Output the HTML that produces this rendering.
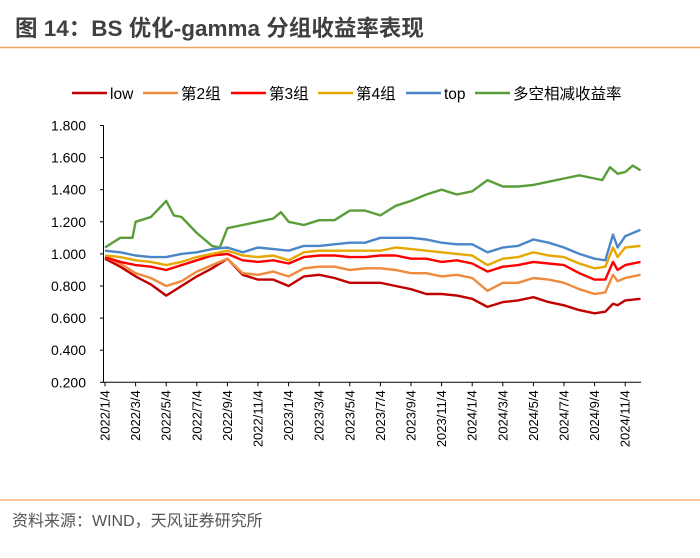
<!DOCTYPE html>
<html><head><meta charset="utf-8"><style>
body{margin:0;width:700px;height:553px;background:#fff;overflow:hidden;font-family:"Liberation Sans","Noto Sans CJK SC",sans-serif}
</style></head><body>
<svg width="700" height="553" xmlns="http://www.w3.org/2000/svg">
<text x="15" y="36" font-size="22.5" font-weight="bold" fill="#404040" font-family="Liberation Sans, Noto Sans CJK SC, sans-serif">图 14：BS 优化-gamma 分组收益率表现</text>
<line x1="0" y1="47.5" x2="700" y2="47.5" stroke="#f0a566" stroke-width="1.5"/>
<g id="legend"></g>
<g id="axes"></g>
<g id="plot"></g>
<line x1="0" y1="500" x2="700" y2="500" stroke="#f0a566" stroke-width="1.2"/>
<text x="12" y="526" font-size="16" fill="#555" font-family="Liberation Sans, Noto Sans CJK SC, sans-serif">资料来源：WIND，天风证券研究所</text>
</svg>
<script>
const tickLabels=["2022/1/4","2022/3/4","2022/5/4","2022/7/4","2022/9/4","2022/11/4","2023/1/4","2023/3/4","2023/5/4","2023/7/4","2023/9/4","2023/11/4","2024/1/4","2024/3/4","2024/5/4","2024/7/4","2024/9/4","2024/11/4"];
const yTicks=[0.2,0.4,0.6,0.8,1.0,1.2,1.4,1.6,1.8];
const months=[0,1,2,3,4,5,6,7,8,9,10,11,12,13,14,15,16,17,18,19,20,21,22,23,24,25,26,27,28,29,30,31,32,32.7,33.2,33.5,34,35];
const lowVals=[0.97,0.92,0.86,0.81,0.74,0.80,0.86,0.91,0.97,0.87,0.84,0.84,0.80,0.86,0.87,0.85,0.82,0.82,0.82,0.80,0.78,0.75,0.75,0.74,0.72,0.67,0.70,0.71,0.73,0.70,0.68,0.65,0.63,0.64,0.69,0.68,0.71,0.72];
const g2Vals=[0.98,0.94,0.88,0.85,0.80,0.83,0.89,0.93,0.97,0.88,0.87,0.89,0.86,0.91,0.92,0.92,0.90,0.91,0.91,0.90,0.88,0.88,0.86,0.87,0.85,0.77,0.82,0.82,0.85,0.84,0.82,0.78,0.75,0.76,0.87,0.83,0.85,0.87];
const g3Vals=[0.98,0.95,0.93,0.92,0.90,0.93,0.96,0.99,1.0,0.96,0.95,0.96,0.94,0.98,0.99,0.99,0.98,0.98,0.99,0.99,0.97,0.97,0.95,0.96,0.94,0.89,0.92,0.93,0.95,0.94,0.93,0.88,0.84,0.84,0.95,0.90,0.93,0.95];
const g4Vals=[0.99,0.98,0.96,0.95,0.93,0.95,0.98,1.0,1.02,0.99,0.98,0.99,0.96,1.01,1.02,1.02,1.02,1.02,1.02,1.04,1.03,1.02,1.01,1.0,0.99,0.93,0.97,0.98,1.01,0.99,0.98,0.94,0.91,0.92,1.04,0.98,1.04,1.05];
const topVals=[1.02,1.01,0.99,0.98,0.98,1.0,1.01,1.03,1.04,1.01,1.04,1.03,1.02,1.05,1.05,1.06,1.07,1.07,1.10,1.10,1.10,1.09,1.07,1.06,1.06,1.01,1.04,1.05,1.09,1.07,1.04,1.0,0.97,0.96,1.12,1.04,1.11,1.15];
const lsMonths=[0,1,1.8,2,3,3.7,4,4.5,5,6,7,7.5,8,9,10,11,11.5,12,13,14,15,16,17,18,19,20,21,22,23,24,25,26,27,28,29,30,31,32,32.5,33,33.5,34,34.5,35];
const lsVals=[1.04,1.10,1.10,1.20,1.23,1.30,1.33,1.24,1.23,1.13,1.05,1.04,1.16,1.18,1.20,1.22,1.26,1.20,1.18,1.21,1.21,1.27,1.27,1.24,1.30,1.33,1.37,1.40,1.37,1.39,1.46,1.42,1.42,1.43,1.45,1.47,1.49,1.47,1.46,1.54,1.50,1.51,1.55,1.52];
const seriesNames=["low","第2组","第3组","第4组","top","多空相减收益率"];
const colors=["#c00000","#f08a3c","#ff0000","#e6a800","#4a86c8","#5a9e3a"];
const NS="http://www.w3.org/2000/svg";
const X0=105,MW=15.3,Y1=125.5,YS=160.5;
const xs=m=>X0+m*MW;
const ys=v=>Y1+(1.8-v)*YS;
function mk(t,a,p){const e=document.createElementNS(NS,t);for(const k in a)e.setAttribute(k,a[k]);p.appendChild(e);return e;}
const axes=document.getElementById('axes'),plot=document.getElementById('plot'),leg=document.getElementById('legend');
const ff="Liberation Sans, Noto Sans CJK SC, sans-serif";
const yax=mk('line',{x1:103.5,y1:Y1,x2:103.5,y2:ys(0.2),stroke:'#000','stroke-width':1},axes);


const xax=mk('line',{x1:103.5,y1:ys(0.2),x2:641,y2:ys(0.2),stroke:'#000','stroke-width':1},axes);


yTicks.forEach(v=>{const y=ys(v);
 mk('line',{x1:100,y1:y,x2:103.5,y2:y,stroke:'#000'},axes);
 const t=mk('text',{x:86,y:y+5,'text-anchor':'end','font-size':14,fill:'#000','font-family':ff},axes);t.textContent=v.toFixed(3);
 
 
});
tickLabels.forEach((s,i)=>{const x=xs(i*2);
 mk('line',{x1:x,y1:ys(0.2),x2:x,y2:ys(0.2)+4,stroke:'#000'},axes);
 const t=mk('text',{x:0,y:0,transform:`translate(${x+4.5},${ys(0.2)+8}) rotate(-90)`,'text-anchor':'end','font-size':13,fill:'#000','font-family':ff},axes);t.textContent=s;
 
 
});
const data=[[months,lowVals],[months,g2Vals],[months,g3Vals],[months,g4Vals],[months,topVals],[lsMonths,lsVals]];
const order=[5,0,1,2,3,4];
order.forEach(i=>{const [mm,vv]=data[i];
 const d=vv.map((v,k)=>(k?'L':'M')+xs(mm[k]).toFixed(1)+','+ys(v).toFixed(1)).join(' ');
 const p=mk('path',{d:d,fill:'none',stroke:colors[i],'stroke-width':2.4,'stroke-linejoin':'round'},plot);
 
 
});
const lx=[72,143,231,318,406,475];
seriesNames.forEach((n,i)=>{const x=lx[i];
 const g=mk('g',{},leg);
 
 
 mk('line',{x1:x,y1:93,x2:x+35,y2:93,stroke:colors[i],'stroke-width':2.5},g);
 const t=mk('text',{x:x+38,y:99,'font-size':15.5,fill:'#000','font-family':ff},g);t.textContent=n;
});
</script>
</body></html>
